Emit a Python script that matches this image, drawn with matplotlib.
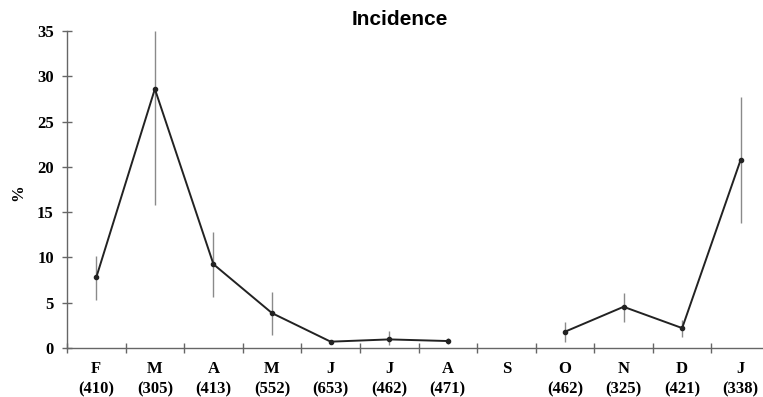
import numpy as np
import matplotlib
matplotlib.use("Agg")
import matplotlib.pyplot as plt
from matplotlib.ticker import FixedLocator

# --- data ---
months = ['F', 'M', 'A', 'M', 'J', 'J', 'A', 'S', 'O', 'N', 'D', 'J']
counts = ['(410)', '(305)', '(413)', '(552)', '(653)', '(462)', '(471)', '',
          '(462)', '(325)', '(421)', '(338)']
incidence = [7.8, 28.6, 9.25, 3.85, 0.7, 0.95, 0.77, np.nan, 1.8, 4.55, 2.2, 20.8]
ci_low = [5.3, 15.8, 5.6, 1.45, 0.5, 0.3, 0.4, np.nan, 0.7, 2.9, 1.25, 13.8]
ci_high = [10.2, 35.0, 12.8, 6.2, 0.9, 1.9, 1.1, np.nan, 2.9, 6.1, 3.1, 27.7]

serif = 'Liberation Serif'
x = np.arange(len(months))

fig = plt.figure(figsize=(7.63, 3.97), dpi=100)
ax = fig.add_axes([0.0878, 0.1234, 0.9122, 0.7985])

# error bars (grey, no caps)
ax.vlines(x, ci_low, ci_high, color='#8a8a8a', linewidth=1.0, zorder=1)
# incidence line with gap at S
ax.plot(x, incidence, color='#222222', linewidth=1.4, marker='o',
        markersize=3, zorder=2)

ax.set_xlim(-0.5, 11.38)
ax.set_ylim(0, 35)

ax.spines['top'].set_visible(False)
ax.spines['right'].set_visible(False)
for s in ['left', 'bottom']:
    ax.spines[s].set_color('#666666')
    ax.spines[s].set_linewidth(1.0)

ax.set_yticks([0, 5, 10, 15, 20, 25, 30, 35])
ax.tick_params(axis='y', direction='inout', length=7, width=1.0,
               color='#666666', pad=6)
for lab in ax.get_yticklabels():
    lab.set_fontfamily(serif)
    lab.set_fontweight('bold')
    lab.set_fontsize(12)

ax.set_xticks(x)
ax.set_xticklabels([m + '\n' + c for m, c in zip(months, counts)],
                   fontfamily=serif, fontweight='bold', fontsize=12,
                   linespacing=1.4)
ax.tick_params(axis='x', which='major', length=0, pad=9)
ax.xaxis.set_minor_locator(FixedLocator(np.arange(-0.5, 11.5, 1.0)))
ax.tick_params(axis='x', which='minor', direction='inout', length=7,
               width=1.0, color='#666666')

ax.set_ylabel('%', fontfamily=serif, fontweight='bold', fontsize=12)
ax.yaxis.set_label_coords(-0.059, 0.49)
ax.set_title('Incidence', fontfamily='Liberation Sans', fontweight='bold',
             fontsize=15, pad=4, x=0.478)

fig.savefig('out.png', dpi=100)
